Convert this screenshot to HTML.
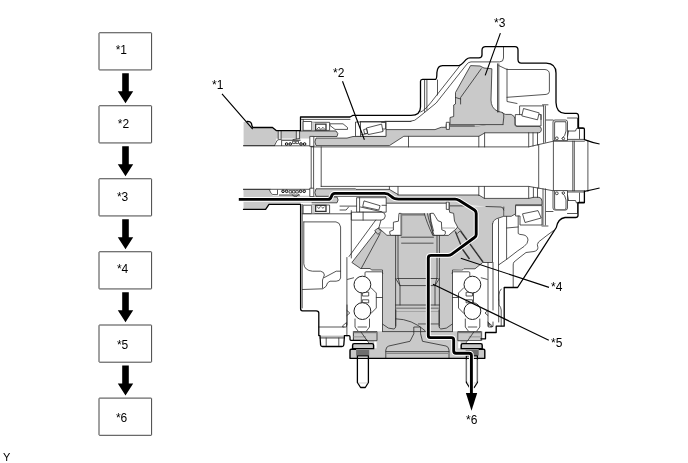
<!DOCTYPE html>
<html lang="en">
<head>
<meta charset="utf-8">
<title>Diagram</title>
<style>
html,body{margin:0;padding:0;background:#fff;}
body{width:688px;height:463px;overflow:hidden;position:relative;font-family:"Liberation Sans",Arial,sans-serif;}
svg{position:absolute;left:0;top:0;display:block;will-change:transform;}
svg text{font-family:"Liberation Sans",Arial,sans-serif;font-size:12px;fill:#000;}
.o{fill:none;stroke:#000;stroke-width:1.3;stroke-linejoin:round;stroke-linecap:round;}
.t{fill:none;stroke:#2b2b2b;stroke-width:0.8;stroke-linejoin:round;stroke-linecap:round;}
.g{fill:#c9c9c9;stroke:#2b2b2b;stroke-width:0.8;stroke-linejoin:round;}
.gn{fill:#c9c9c9;stroke:none;}
.w{fill:#fff;stroke:#2b2b2b;stroke-width:0.8;stroke-linejoin:round;}
.wn{fill:#fff;stroke:none;}
.l{fill:none;stroke:#000;stroke-width:1.15;stroke-linecap:butt;}
</style>
</head>
<body>
<svg width="688" height="463" viewBox="0 0 688 463">
<rect width="688" height="463" fill="#fff"/>
<g id="flow"><rect x="99" y="32.75" width="52.6" height="37.2" rx="0.5" fill="#fff" stroke="#444" stroke-width="1"/>
<text x="115.65" y="54.00">*1</text>
<rect x="99" y="105.75" width="52.6" height="37.2" rx="0.5" fill="#fff" stroke="#444" stroke-width="1"/>
<text x="117.75" y="127.75">*2</text>
<rect x="99" y="178.75" width="52.6" height="37.2" rx="0.5" fill="#fff" stroke="#444" stroke-width="1"/>
<text x="116.90" y="201.10">*3</text>
<rect x="99" y="251.75" width="52.6" height="37.2" rx="0.5" fill="#fff" stroke="#444" stroke-width="1"/>
<text x="116.90" y="272.90">*4</text>
<rect x="99" y="325.00" width="52.6" height="37.2" rx="0.5" fill="#fff" stroke="#444" stroke-width="1"/>
<text x="116.90" y="349.00">*5</text>
<rect x="99" y="398.10" width="52.6" height="37.2" rx="0.5" fill="#fff" stroke="#444" stroke-width="1"/>
<text x="115.90" y="422.00">*6</text>
<path d="M122.2 73.15h6.6v18h4.4l-7.7 12l-7.7-12h4.4z" fill="#000"/>
<path d="M122.2 146.15h6.6v18h4.4l-7.7 12l-7.7-12h4.4z" fill="#000"/>
<path d="M122.2 219.15h6.6v18h4.4l-7.7 12l-7.7-12h4.4z" fill="#000"/>
<path d="M122.2 292.15h6.6v18h4.4l-7.7 12l-7.7-12h4.4z" fill="#000"/>
<path d="M122.2 365.40h6.6v18h4.4l-7.7 12l-7.7-12h4.4z" fill="#000"/></g>
<!-- ================= GRAY / WHITE FILLS ================= -->
<g id="shaft-in">
  <!-- input shaft upper -->
  <path class="gn" d="M243.6 122L248 121.6L252.6 127.5H272.5L276.2 130.6H336Q339.2 133.5 337 136.5H312L311 138.6H276.5L274.5 145.6H243.6Z"/>
  <path class="t" d="M243.6 145.6H274.5M300.4 131H336Q339.2 133.5 337 136.5H312"/>
  <path d="M278.2 131.2h2.9v7.8h-2.9zM296.3 131.2h3.3v7.8h-3.3z" fill="#e6e6e6"/>
  <path class="t" d="M278.2 131v8M281.1 131v8M296.3 131v8M299.6 131v8"/>
  <!-- input shaft lower -->
  <path class="gn" d="M243.5 189.4H270.5L272 194.3H312V197H337Q339.2 200 337 202.8H300.4V204.4H269L265.6 209.4H243.5Z"/>
  <path class="t" d="M243.5 189.4H270.5M312 197H337Q339.2 200 337 202.8H312"/>

  <!-- seals -->
  <path class="wn" d="M275.6 145.6L276.8 141Q277.5 139.6 279 139.6H309.5V145.9H275.6Z"/>
  <path class="t" d="M274.5 145.6L276.8 141Q277.5 139.6 279 139.6H281.6V145.6M243.6 145.8H314"/>
  <path d="M282 139.6H300.5V141H282Z" fill="#666"/>
  <g fill="#ddd" stroke="#111" stroke-width="1"><circle cx="286.6" cy="144" r="1.3"/><circle cx="290.2" cy="144" r="1.3"/><circle cx="301" cy="144" r="1.3"/><circle cx="304.6" cy="144" r="1.3"/></g>
  <path class="t" d="M293 141.2h2.2v2.4h-2.2zM296.3 141.2h2.2v2.4h-2.2zM293 139.6L299 138.6"/>
  <path class="wn" d="M269.3 189.6H309.5V195.8H273L270.5 193.8Z"/>
  <path class="t" d="M243.5 189.3H310M269.3 189.6L271.2 193.6Q272 194.6 274 194.6H277.5V190"/>
  <path d="M279 194.4H300V195.8H279Z" fill="#777"/>
  <g fill="#ddd" stroke="#111" stroke-width="1"><circle cx="283" cy="191.3" r="1.3"/><circle cx="286.6" cy="191.3" r="1.3"/><circle cx="300.6" cy="191.3" r="1.3"/><circle cx="304.2" cy="191.3" r="1.3"/></g>
  <path class="t" d="M289.5 190.6h2.2v2.4h-2.2zM292.8 190.6h2.2v2.4h-2.2zM296.1 190.6h2.2v2.4h-2.2zM292 194.5L294 196.3H297L298.5 194.5"/>
</g>
<g id="sleeve">
  <path class="w" d="M309.8 136.4H313.8V146.4H309.8Z"/>
  <path class="w" d="M309.8 188.2H313.8V196.6H309.8Z"/>
  <!-- upper sleeve + ring gear -->
  <path class="g" d="M316 138.1H347L353 136.5H385.6V129.6H435L441.2 127.3H446.2V124.4H450V117.5L453.7 116.5V105L455.5 104V92.5L470.6 65.6L480 66L484 68L491.9 68.8L491 100Q491 108 497.5 111.2L502.5 112.5Q503.8 114 505.6 114.4H511.2Q515 116 515 119V125Q515 126.3 517 126.3H539Q541.6 127 541.4 129.5Q541.6 132 539 132.8H485L478.8 136.3H403.8L389.4 145.6H316Q313.8 142 316 138.1Z"/>
  <path class="t" d="M450 124.6H503M502.5 112.5Q504.2 114 503.8 117L503 124.4"/>
  <path d="M450 124.6H474L486.2 125.2L474 127H450Z" fill="#777"/>
  <path d="M474.5 125.3L485 125.3L475 126.4Z" fill="#ddd"/>
  <!-- lower sleeve -->
  <path class="w" d="M446.3 122.3H449.4V129.4H446.3Z"/>
  <path class="gn" d="M316 188.8H355.6L356 189.4H389.4L398.8 195H478.8L484.4 198.4H528.5L533.8 197.3H539Q542 198 542 201.2V204.8H515.6V213.8L511.2 216.3H504.4V209Q504 207 501 207H449.2V203.2H385.6V196.3H316Q313.8 192.5 316 188.8Z"/>
  <path class="t" d="M504.4 216.3H511.2L515.6 213.8V204.8H542V201.2Q542 198 539 197.3H533.8L528.5 198.4H484.4L478.8 195H398.8L389.4 189.4H356L355.6 188.8H316Q313.8 192.5 316 196.3H385.6V203.2H446.3"/>
</g>

<!-- ================= DIFFERENTIAL ================= -->
<g id="diff">
  <!-- big gray body -->
  <path class="gn" d="M378.8 228L386.9 235.3H391.5L390 234.5L389.7 231.5L393.4 230V222.2L398.4 221.2L399 213.3H431.5L433.5 213.3L435.3 216.3L437.9 220.7L441.4 222L441.8 229.8L445.3 231.2V233.8L444 235.3H448.4L454.5 230.3L457.5 226.8L454.5 221.1L453.6 213.3L449.7 212.4L449.2 209.4V203H503.8V216.3L496.3 218.8Q492.5 220.5 492.5 223.8V262.5H482.7L475 268.8H463.8L452.5 270V331.3H482.5V358.5H352.5V331.3H382.5V270H372L370 268.8H360.6L351.9 262.5Z"/>
  <!-- left side gear lines -->
  <path class="t" d="M378.8 228L386.9 235.3H401.2M378.8 228L351.9 262.5L360.6 268.5H370Q371.5 270 372 270H382.5V331.3M380 233.8L361.2 268.5"/>
  <path class="g" d="M374.7 230.6L378.1 228.1L381.2 231.6L377.8 234.4Z"/>
  <path d="M379 227.9H393.4" stroke="#aaa" stroke-width="1" fill="none"/>
  <path d="M441.8 228H455" stroke="#aaa" stroke-width="1" fill="none"/>
  <!-- right side gear lines -->
  <path class="t" d="M454.5 230.3L448.4 235.4H433.8M492.5 223.8V262.5H482.7L475 268.8H463.8Q463 270 462 270H452.5V331.3M449.2 203V209.4L449.7 212.4L453.6 213.3L454.5 221.1L457.5 226.8M503.8 207V216.3L496.3 218.8Q492.5 220.5 492.5 223.8"/>
  <path class="g" d="M457.5 227.2L460.6 230.3L457.1 233.8L454.5 230.7Z"/>
  <path d="M455.6 232L463 250L469.5 259M460.6 231L483 262" stroke="#333" stroke-width="1.5" fill="none"/>
  <path d="M456.4 231.6L463.8 249.6M461.6 230.5L484 261.5" stroke="#bbb" stroke-width="0.5" fill="none"/>
  <path d="M450 205H465V206.6H450Z" fill="#777"/>
  <path d="M465 205.2H472L486 206.4L472 206.8H465Z" fill="#eee"/>
  <path class="t" d="M486 206.5L501 207Q503.6 207.3 503.8 210"/>
  <!-- washers -->
  <path class="w" d="M401.2 213.4H399L398.4 221.2L393.4 222.2V230L389.7 231.5L390 234.5L391.5 235.3H401.2Z"/>
  <path class="w" d="M431 213.3H433.5L435.3 216.3L437.9 220.7L441.4 222L441.8 229.8L445.3 231.2V233.8L444 235.3H433L431.8 228Q430 220 430 213.7Z"/>
  <!-- pinion -->
  <path d="M401 213.3H425V215.6H401Z" fill="#7a7a7a"/>
  <path d="M400.6 213.3H402.2V235.3H400.6Z" fill="#7a7a7a"/>
  <path class="t" d="M424.4 213.7Q426.5 222 432.7 235.3M427.5 213.7Q429 222 434 235M430 213.7Q430.5 221 433.5 231"/>
  <path class="t" d="M395.6 235.5V326M398 235.5V277L400 285.6V305M439.4 235.5V326M437 235.5V277L435 285.6V305M401.2 237.2H433.5M397 278.5H438M400 285.6H435M395.6 305H439.4M395.6 278.5L400 285.6M439.4 278.5L435 285.6"/>
  <path d="M401.2 242.5H433.5V243.9H401.2Z" fill="#7a7a7a"/>
  <path d="M396 307.4H439V308.9H396Z" fill="#888"/>
  <path d="M396 311H439V311.8H396Z" fill="#999"/>
  <path d="M418 323H439.4V324.8H418Z" fill="#888"/>
  <path class="t" d="M382.7 324.2L388.4 328.1L394 329Q395.6 328.5 395.8 326V310M452.1 324.2L446.4 328.1L440.8 329Q439.2 328.5 439 326V310M382.5 331.6H452.5"/>
  <path class="t" d="M385.8 358.2V350Q386.2 346.6 388.8 346L410 341.3L413.8 333.8V327H420.6V333.8L422.5 341.3L446 346Q448.6 346.6 449 350V358.2M386 351.6H449M395.6 318.8Q412 319 425 330.6"/>
  <path d="M386 352.7H449V354.1H386Z" fill="#8a8a8a"/>
  <!-- ball bearings + studs: left half, mirrored for right -->
  <g id="halfL">
    <path class="t" d="M365 276V272.8Q365 271.8 366 271.8H381.3Q382.8 271.8 382.8 273.3M347.5 279.4L353.6 277.8M371 287.7L376.3 293V308L371 313.4M376.3 297.5H382.3M362.7 292.2h6v3.8h-6zM362.7 299.8h6v3h-6zM361.3 292.6V302.6M355 319V327L358 331M369.5 319V327L366.5 331M358 327H366.5M346.9 310.5L349.8 313L346.9 315.5M343 325.5L346.5 322.5V327H343Z"/>
    <circle cx="362.4" cy="284.6" r="8.4" fill="#fff" stroke="#222" stroke-width="1"/>
    <circle cx="362.4" cy="311.1" r="8.4" fill="#fff" stroke="#222" stroke-width="1"/>
    <path class="g" d="M353.5 331.6H377V340.7H353.5Z"/>
    <path d="M353.5 331.9H377V333.2H353.5Z" fill="#777"/>
    <path d="M353.5 336.3H366V337.4H353.5Z" fill="#999"/>
    <path class="t" d="M361 332L368.8 343"/>
    <path class="wn" d="M351 340.9H367L368.5 343.2H351Z"/>
    <path class="wn" d="M374.2 341.6H376.6V348.3H374.2Z"/>
    <path d="M350 349H356.5V358.2H350Z" fill="#c9c9c9"/>
    <path d="M356.1 349.9H369.2V355.6H356.1Z" fill="#6e6e6e"/>
    <path d="M357.4 356.2H368.4V357.8H357.4Z" fill="#bbb"/>
    <path d="M354.2 343.6H372Q373.6 343.6 373.6 345.2V348.6H352.6V345.2Q352.6 343.6 354.2 343.6Z" fill="#c9c9c9" stroke="#000" stroke-width="1.4"/>
    <path d="M356.1 349.3H351.2Q350 349.3 350 350.5V358.2" fill="none" stroke="#000" stroke-width="1.4"/>
    <path d="M357.4 355.8V382.5L360.6 387.5H365.3L368.4 382.5V355.8Z" fill="#fff" stroke="#000" stroke-width="1.3" stroke-linejoin="round"/>
    <path d="M358.5 383H367.5" stroke="#bbb" stroke-width="0.7"/>
  </g>
  <g transform="translate(834.8 0) scale(-1 1)">
    <path class="t" d="M365 276V272.8Q365 271.8 366 271.8H381.3Q382.8 271.8 382.8 273.3M347.5 279.4L353.6 277.8M371 287.7L376.3 293V308L371 313.4M376.3 297.5H382.3M362.7 292.2h6v3.8h-6zM362.7 299.8h6v3h-6zM361.3 292.6V302.6M355 319V327L358 331M369.5 319V327L366.5 331M358 327H366.5M346.9 310.5L349.8 313L346.9 315.5M343 325.5L346.5 322.5V327H343Z"/>
    <circle cx="362.4" cy="284.6" r="8.4" fill="#fff" stroke="#222" stroke-width="1"/>
    <circle cx="362.4" cy="311.1" r="8.4" fill="#fff" stroke="#222" stroke-width="1"/>
    <path class="g" d="M353.5 331.6H377V340.7H353.5Z"/>
    <path d="M353.5 331.9H377V333.2H353.5Z" fill="#777"/>
    <path d="M353.5 336.3H366V337.4H353.5Z" fill="#999"/>
    <path class="t" d="M361 332L368.8 343"/>
    <path class="wn" d="M351 340.9H367L368.5 343.2H351Z"/>
    <path class="wn" d="M374.2 341.6H376.6V348.3H374.2Z"/>
    <path d="M350 349H356.5V358.2H350Z" fill="#c9c9c9"/>
    <path d="M356.1 349.9H369.2V355.6H356.1Z" fill="#6e6e6e"/>
    <path d="M357.4 356.2H368.4V357.8H357.4Z" fill="#bbb"/>
    <path d="M354.2 343.6H372Q373.6 343.6 373.6 345.2V348.6H352.6V345.2Q352.6 343.6 354.2 343.6Z" fill="#c9c9c9" stroke="#000" stroke-width="1.4"/>
    <path d="M356.1 349.3H351.2Q350 349.3 350 350.5V358.2" fill="none" stroke="#000" stroke-width="1.4"/>
    <path d="M357.4 355.8V382.5L360.6 387.5H365.3L368.4 382.5V355.8Z" fill="#fff" stroke="#000" stroke-width="1.3" stroke-linejoin="round"/>
    <path d="M358.5 383H367.5" stroke="#bbb" stroke-width="0.7"/>
  </g>
  <path d="M466.4 359.5V381.5M477.4 359.5V381.5" stroke="#fff" stroke-width="0.5" fill="none"/>
</g>

<!-- ================= HOUSING THIN LINES ================= -->
<g id="housing">
  <!-- hollow shaft lines -->
  <path class="t" d="M311.2 146.9H528.6Q541 144 553.4 141.2H584.4M321.2 186.4H528.6Q541 188.5 553.4 190.8H584.4M311.2 146.5V188M313.6 146.5V188M321.2 146.9V186.6M538.7 144.7V188.2M553.4 141.2V190.8M572.8 141.2V190.8M574.3 141.2V190.8M587.9 140.4V191.4"/>
  <path class="l" d="M584.4 139.6Q592 142.5 599.6 144M584.4 191.4Q592 190 599.6 188"/>
  <path class="t" d="M408.5 136.5V146.9M478.8 136.3V146.9M484.6 132.8V146.9M528.7 132.8V146.9M533 132.8V146M537.5 132.8V145M389.4 186.6V189.4M398 186.6V195M478.8 186.6V195.6M484.4 186.6V198.4M528.7 186.6V198.4M533.4 187.4V197.3M537.5 188V197.3"/>
  <!-- upper left housing -->
  <path class="t" d="M301.5 119.4H350M303.2 119.4V130.6"/>
  <path class="w" d="M303.1 121.5H311.6V130.4H303.1Z"/>
  <path class="w" d="M311.6 122.3H329.6V130.4H311.6Z"/>
  <path d="M311.6 122.3H314.6V130.4H311.6Z" fill="#ccc"/>
  <path d="M315.6 124.2h10.4v6h-10.4z" fill="#fff" stroke="#333" stroke-width="1.3"/>
  <path d="M316.5 129.5L319 127L320.5 129.5M321.5 129L322.8 127.2L324.5 129" fill="none" stroke="#555" stroke-width="0.9"/>
  <path class="w" d="M330 123.8H343L347.5 127.5V129.4H335L330 125.5Z"/>
  <!-- upper-left bearing -->
  <path class="w" d="M355.5 122H386V136.4H355.5Z"/>
  <path class="t" d="M360.5 122V136.4M361 134.8L383 130.5M381.6 122.4H385.6V129H381.6M360.3 121.5H411"/>
  <path class="w" d="M366.4 128L381.6 124.1L383 131.5L368.1 134.6Z" stroke="#222" stroke-width="0.9"/>
  <path class="t" d="M364 129.5L366.6 128.8L367.6 133L365 133.8Z"/>
  <!-- lower-left bearing -->
  <path class="w" d="M356.6 197.7H386.2V212.2H356.6Z"/>
  <path class="t" d="M359.6 197.7V212.2M360.5 207L381.8 211.8M382 205.3H386.2"/>
  <path class="w" d="M364 200.9L380.1 205.7L378.8 210L362.7 206.6Z" stroke="#222" stroke-width="0.9"/>
  <path class="w" d="M351.3 212.2H382Q385.3 212.6 385.3 216Q385 219.6 381.5 220.1H351.3Z"/>
  <path class="t" d="M363.1 212.2V220.1M302.2 213.8H351.2M351.3 210.6V258M302.2 204.4V308M375.7 220.1L349 256.5M381 220.1L378.8 228M340 206.1H356.6M340 210H346.1L348.6 207"/>
  <path class="w" d="M303.1 205.2H311.6V213.6H303.1Z"/>
  <path class="w" d="M311.6 205H329.6V213.4H311.6Z"/>
  <path d="M311.6 205H314.6V213.4H311.6Z" fill="#ccc"/>
  <path d="M315.6 205.4h10.4v6h-10.4z" fill="#fff" stroke="#333" stroke-width="1.3"/>
  <path d="M316.5 206.2L319 208.6L320.5 206.2M321.5 206.6L322.8 208.4L324.5 206.6" fill="none" stroke="#555" stroke-width="0.9"/>
  <!-- lower-left cavity -->
  <path class="t" d="M303.8 221.9H336Q340 222.5 340.6 227V278Q340 281.2 336.2 281.2H330Q327 282 326.2 286.2L322.8 288.8L302.5 289.5M303.8 221.9V263.8Q304.5 270.5 312.5 271.2H320.6Q324.4 272 324.4 275L322.5 280V288M324.4 277.5L336.2 271.2H340.6M346.9 257.5V336"/>
  <path class="t" d="M319 327H344M347 305V325"/>
  <!-- bulge -->
  <path class="t" d="M424.6 80V112M426.9 79.5V110M437.5 80V95"/>
  <!-- diagonal wall -->
  <path class="t" d="M385 121.3H410Q415 121.3 419 117L436.2 103L466.2 65Q468 62 471 61.9H499.5Q503.5 61.9 503.5 58V46.6M420.6 112Q424 111 430.6 102.9L460 65.6"/>
  <path class="t" d="M497.5 63.8V112M498.8 63.8V112M481.2 68.8L460.6 97.5V104M455.5 97.5L460.6 99"/>
  <!-- right cavity -->
  <path class="t" d="M498.8 65.6L507 69.5H545Q549.4 70 549.4 74V91.5Q549 94.2 546.2 94.4L507 97.3M507 68.8V101.5L517 103.5"/>
  <!-- upper-right bearing -->
  <path class="w" d="M515.3 114.6H541V126H517Q515.3 126 515.3 124Z"/>
  <path class="t" d="M520 105.9H543.6M519.6 106.3V114.6M541 114.6V119.5"/>
  <path class="w" d="M523.5 108.5L539.2 112.9L537.5 119.8L521.8 115.9Z" stroke="#222" stroke-width="0.9"/>
  <path class="t" d="M543.6 105.9V142.5M545.4 105.9V142.2M542.5 104.8H548M546.2 120H553"/>
  <!-- lower-right bearing -->
  <path class="w" d="M515.6 205.6H542V225H520V216H515.6Z"/>
  <path class="w" d="M522.5 213.8L538 210.6L541.2 218L525 222.5Z" stroke="#222" stroke-width="0.9"/>
  <path class="t" d="M543 188.8V225M545.4 188.8V225M542 226H548M546.2 211.5H553"/>
  <!-- seals right -->
  <path class="w" d="M553 140.6V122Q553 120 555 120H565.5Q567.5 120 567.5 122V140.6Z"/>
  <path class="t" d="M567.5 118H577.5V128M568.5 131H575.5L576.5 128.5H584M567.5 139.4H584.4M554.6 140V123Q554.6 121.6 556 121.6H564.5Q566 121.6 566 123V131Q565.5 136 562 138.5M568.5 131L567.5 136.5M579.5 129.5V138.5"/>
  <path d="M554.6 121.6H566" stroke="#777" stroke-width="1.2" fill="none"/>
  <g fill="#fff" stroke="#222" stroke-width="0.8"><circle cx="556.8" cy="138.3" r="1.4"/><circle cx="563.4" cy="138.6" r="1.2"/></g>
  <path class="w" d="M553 190.6V208Q553 210 555 210H565.5Q567.5 210 567.5 208V190.6Z"/>
  <path class="t" d="M567.5 213.5H577.5V202.5M568.5 200.5H575.5L576.5 203H584M567.5 192H584.4M554.6 191.4V208Q554.6 209.6 556 209.6H564.5Q566 209.6 566 208V200Q565.5 195 562 193M568.5 200.5L567.5 195M579.5 202V193"/>
  <path d="M554.6 209.6H566" stroke="#777" stroke-width="1.2" fill="none"/>
  <g fill="#fff" stroke="#222" stroke-width="0.8"><circle cx="556.8" cy="193.3" r="1.4"/><circle cx="563.4" cy="193" r="1.2"/></g>
  <!-- right lower housing -->
  <path class="t" d="M498.5 219V300M506.6 216.5V259.4M506.6 228L518 227M518.2 216V233.5Q519 234.6 523 234.8Q527.6 235.5 528 240Q528 243.5 524 246.5L517.2 251.2L506.6 259.4L498.5 265M553.5 230.6Q546 236 538.5 242Q536.5 244.5 537.9 247.5Q538 250.6 534 251.5L526 252.5Q520 257 514 262Q513.2 263 513.2 265V287"/>
  <path class="t" d="M488 262.5V326M493 262.5V310M498.7 300V322M501.2 289Q499 291 499 295V305Q501 307 501.2 310V326M488 322L490.5 326.5H493V322"/>
  <!-- bottom plate / studs -->
  <path d="M320 335.6H344.4V337.8H320Z" fill="#bbb"/>
  <path class="t" d="M320 338H344.4M326.2 338V345.5M338.8 338V345.5"/>
</g>

<path class="w" d="M446.3 202H449V209.4H446.3Z"/>
<!-- ================= THICK OUTLINES ================= -->
<g id="outline">
  <path class="o" d="M247 121.3Q251.6 121 251.9 125.6L252.8 127.5H272.5L276.2 130.6H300.5V117H350L353.1 115.3H411Q420.5 115.3 420.5 107V81.3Q420.6 79.4 422.5 79.4H435.6Q436.9 79 436.9 72.5Q437.5 65.6 442.5 65.6H458.8Q461 65.6 466.2 59.4Q468 57.8 470 57.8H479Q481.9 57.8 482 55V50Q482.2 46.6 485.6 46.6H515Q518 46.6 518 50V59.8Q518.2 63.1 521.2 63.1H546.2Q556 63.5 556 73V102.5Q556.3 113 565 113.4H576.2Q578.5 113.5 578.5 116V128H583Q584.4 128 584.4 129.5V139.4"/>
  <path class="o" d="M243.5 209.4H265.6L269 204.4H300.6V308.8Q300.6 310.8 302.5 310.8H316.2Q318.8 310.8 318.8 313V335"/>
  <path class="o" d="M584.4 191.2V202.5H578.8Q578 202.6 578 204V215.6Q577.8 217.5 575.6 217.5H565Q558 218.5 556.3 227.5L517.6 287.5H504.2V326.2H496.2V332.5H485.5V338.8H481"/>

  <path class="o" d="M318.8 335.6H320L320.6 345Q320.8 346.5 322.5 346.5H342Q343.6 346.5 343.8 345L344.4 337V335.6H348.8Q350 335.6 350 337V339.4Q350.2 340.4 351.2 340.4H367"/>
  <path class="o" d="M350 358.3H484.8"/>
</g>
<!-- ================= FLOW PATH ================= -->
<g id="flowpath" fill="none" stroke-linejoin="round">
  <path id="fp" d="M238.8 199.4H328Q330.4 199.4 331.4 196.5Q332.4 193.4 334.8 193.4H384.5Q388 193.4 391 196.2Q394 199.1 398.5 199.1H455Q457.5 199.1 459 200.3L474.5 210Q476.2 211.2 476.2 213.5V234.5Q476.2 236.5 474.5 237.5L451.5 254.3Q450 255.4 448 255.4H431Q428.3 255.4 428.3 258V335.5Q428.3 337.6 430.5 337.6H451.5Q453.7 337.6 453.7 340V351Q453.7 353.2 456 353.2H469Q471.4 353.2 471.4 355.5V394" stroke="#fff" stroke-width="4.9" stroke-linecap="butt"/>
  <path d="M238.8 199.4H328Q330.4 199.4 331.4 196.5Q332.4 193.4 334.8 193.4H384.5Q388 193.4 391 196.2Q394 199.1 398.5 199.1H455Q457.5 199.1 459 200.3L474.5 210Q476.2 211.2 476.2 213.5V234.5Q476.2 236.5 474.5 237.5L451.5 254.3Q450 255.4 448 255.4H431Q428.3 255.4 428.3 258V335.5Q428.3 337.6 430.5 337.6H451.5Q453.7 337.6 453.7 340V351Q453.7 353.2 456 353.2H469Q471.4 353.2 471.4 355.5V394" stroke="#000" stroke-width="2.9" stroke-linecap="butt"/>
  <path d="M465.9 393.1H477.2L471.5 410.8Z" fill="#000" stroke="none"/>
</g>
<!-- ================= LEADERS / LABELS ================= -->
<g id="labels">
  <path class="l" d="M222 93.8L252.7 129.2M342.5 81.2L364.4 139.7M500.4 33.1L485.2 75.4M460.8 258.2L549 287.4M433 284.2L548.8 340.3"/>
  <text x="212" y="89.2">*1</text>
  <text x="333" y="77.2">*2</text>
  <text x="494.1" y="27">*3</text>
  <text x="551" y="290.8">*4</text>
  <text x="551" y="347">*5</text>
  <text x="466" y="423.9">*6</text>
  <text x="3.1" y="460.7" style="font-size:11px">Y</text>
</g>

</svg>
</body>
</html>
